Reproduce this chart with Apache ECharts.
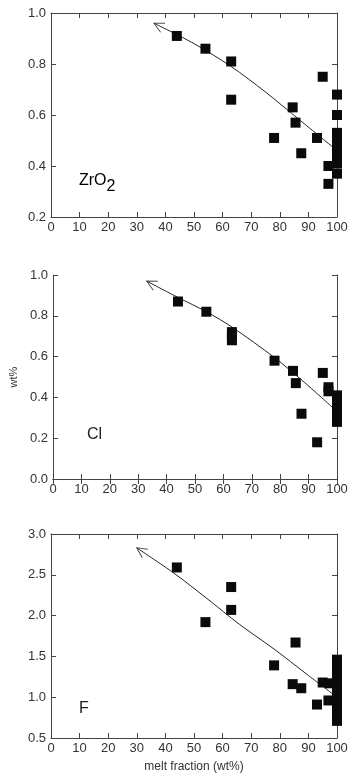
<!DOCTYPE html>
<html>
<head>
<meta charset="utf-8">
<script src="https://cdn.jsdelivr.net/npm/echarts@6/dist/echarts.min.js"></script>
<style>
  html, body { margin: 0; padding: 0; background: #fff; }
  #main { width: 353px; height: 784px; }
</style>
</head>
<body>
<div id="main"></div>
<script>
// melt fraction (wt%) vs concentration, three panels
const meltZr = [44, 54, 63, 63, 78, 84.5, 85.5, 87.5, 93, 95, 97, 97, 100, 100, 100, 100, 100, 100, 100, 100]
const zrO2 = [0.91, 0.86, 0.81, 0.66, 0.51, 0.63, 0.57, 0.45, 0.51, 0.75, 0.40, 0.33, 0.68, 0.60, 0.53, 0.50, 0.47, 0.44, 0.41, 0.37]

const meltCl = [44, 54, 63, 63, 63, 78, 84.5, 85.5, 87.5, 93, 95, 97, 97, 100, 100, 100, 100, 100, 100]
const cl = [0.87, 0.82, 0.72, 0.70, 0.68, 0.58, 0.53, 0.47, 0.32, 0.18, 0.52, 0.45, 0.43, 0.41, 0.38, 0.36, 0.34, 0.31, 0.28]

const meltF = [44, 54, 63, 63, 78, 84.5, 85.5, 87.5, 93, 95, 97, 97.5, 100, 100, 100, 100, 100, 100, 100, 100, 100, 100, 100]
const f = [2.59, 1.92, 2.35, 2.07, 1.39, 1.16, 1.67, 1.11, 0.91, 1.18, 0.96, 1.17, 1.46, 1.38, 1.30, 1.22, 1.15, 1.08, 1.00, 0.92, 0.85, 0.78, 0.71]

// fitted trends (arrow at the low-melt end)
const trendZrX = [36, 50, 63, 75, 87, 99]
const trendZrY = [0.96, 0.88, 0.79, 0.69, 0.58, 0.47]
const trendClX = [33, 44, 54, 63, 78, 88, 98.5]
const trendClY = [0.97, 0.89, 0.82, 0.745, 0.595, 0.48, 0.35]
const trendFX = [30, 43, 54.5, 66, 78, 89.5, 98.5]
const trendFY = [2.83, 2.52, 2.21, 1.89, 1.59, 1.28, 1.04]

const yRanges = [[0.2, 1.0, 0.2], [0.0, 1.0, 0.2], [0.5, 3.0, 0.5]]

const zip = (xs, ys) => xs.map((x, i) => [x, ys[i]])

const panels = [
  { pts: zip(meltZr, zrO2), trend: zip(trendZrX, trendZrY) },
  { pts: zip(meltCl, cl), trend: zip(trendClX, trendClY) },
  { pts: zip(meltF, f), trend: zip(trendFX, trendFY) }
]

const FONT = 'Liberation Sans'
const AXIS = '#444'
const tops = [13, 275, 534]
const ARROW = 'path://M0,0 L10,5 L0,10'
const ARROW_SIZE = 10

const grid = tops.map(t => ({ left: 51, top: t, width: 286, height: 204 }))

const xAxis = []
const yAxis = []
tops.forEach((t, i) => {
  const base = {
    type: 'value', gridIndex: i, min: 0, max: 100, interval: 10,
    axisLine: { show: true, lineStyle: { color: AXIS, width: 1 } },
    axisTick: { show: true, inside: true, length: 5, lineStyle: { color: AXIS } },
    splitLine: { show: false }
  }
  xAxis.push(Object.assign({}, base, {
    position: 'bottom',
    axisLabel: { color: '#333', fontFamily: FONT, fontSize: 13, margin: 4, showMinLabel: true, showMaxLabel: true },
    name: i === 2 ? 'melt fraction (wt%)' : '',
    nameLocation: 'middle',
    nameGap: 23,
    nameTextStyle: { color: '#333', fontFamily: FONT, fontSize: 12 }
  }))
  xAxis.push(Object.assign({}, base, { position: 'top', axisLabel: { show: false } }))
  const [lo, hi, step] = yRanges[i]
  const ybase = {
    type: 'value', gridIndex: i, min: lo, max: hi, interval: step,
    axisLine: { show: true, onZero: false, lineStyle: { color: AXIS, width: 1 } },
    axisTick: { show: true, inside: true, length: 5, lineStyle: { color: AXIS } },
    splitLine: { show: false }
  }
  yAxis.push(Object.assign({}, ybase, {
    position: 'left',
    axisLabel: { color: '#333', fontFamily: FONT, fontSize: 13, margin: 5, formatter: v => v.toFixed(1) },
    name: i === 1 ? 'wt%' : '',
    nameLocation: 'middle',
    nameGap: 34,
    nameRotate: 90,
    nameTextStyle: { color: '#333', fontFamily: FONT, fontSize: 11 }
  }))
  yAxis.push(Object.assign({}, ybase, { position: 'right', axisLabel: { show: false } }))
})

const series = []
panels.forEach((p, i) => {
  series.push({
    type: 'line', xAxisIndex: i * 2, yAxisIndex: i * 2,
    data: p.trend, smooth: 0.3, symbol: 'none', clip: false,
    lineStyle: { color: '#222', width: 1 }, z: 2
  })
  series.push({
    type: 'scatter', xAxisIndex: i * 2, yAxisIndex: i * 2,
    data: p.pts, symbol: 'rect', symbolSize: 10, clip: false,
    itemStyle: { color: '#0a0a0a', opacity: 1 }, z: 3
  })
})

const labelStyle = { fontFamily: FONT, fontSize: 16, fill: '#222' }

const option = {
  animation: false,
  backgroundColor: '#fff',
  grid, xAxis, yAxis, series,
  graphic: [
    {
      type: 'text', left: 79, top: 173,
      style: {
        text: '{a|ZrO}{b|2}',
        rich: {
          a: { fontFamily: FONT, fontSize: 16, color: '#222' },
          b: { fontFamily: FONT, fontSize: 16, color: '#222', padding: [12, 0, 0, 0] }
        }
      }
    },
    { type: 'text', left: 87, top: 427, style: Object.assign({ text: 'Cl' }, labelStyle) },
    { type: 'text', left: 79, top: 701, style: Object.assign({ text: 'F' }, labelStyle) }
  ]
}

const chart = echarts.init(document.getElementById('main'))
chart.setOption(option)

// open arrowheads at the start of each trend, turned along the first segment
const arrowSeries = panels.map((p, i) => {
  const p0 = chart.convertToPixel({ gridIndex: i }, p.trend[0])
  const p1 = chart.convertToPixel({ gridIndex: i }, p.trend[1])
  const dx = p0[0] - p1[0]
  const dy = p0[1] - p1[1]
  const len = Math.sqrt(dx * dx + dy * dy)
  const c = [p0[0] - dx / len * ARROW_SIZE / 2, p0[1] - dy / len * ARROW_SIZE / 2]
  const ang = Math.atan2(-dy, dx) * 180 / Math.PI
  return {
    type: 'scatter', xAxisIndex: i * 2, yAxisIndex: i * 2,
    data: [chart.convertFromPixel({ gridIndex: i }, c)],
    symbol: ARROW, symbolSize: ARROW_SIZE, symbolRotate: ang, clip: false,
    itemStyle: { color: 'rgba(0,0,0,0)', borderColor: '#222', borderWidth: 1 }, z: 2
  }
})
chart.setOption({ series: series.concat(arrowSeries) })
</script>
</body>
</html>
